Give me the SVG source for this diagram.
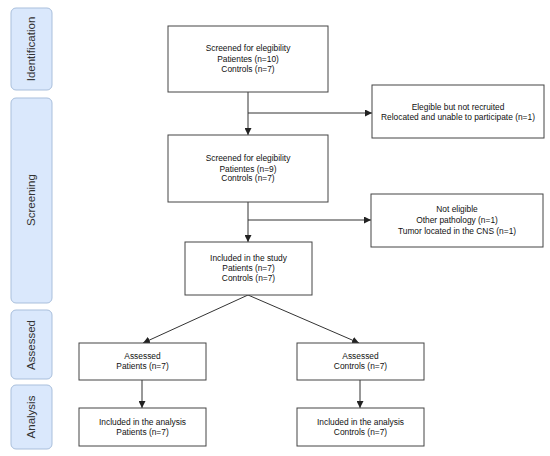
<svg xmlns="http://www.w3.org/2000/svg" width="550" height="456" viewBox="0 0 550 456">
<style>
.side{fill:#dae8fc;stroke:#a9bfdc;stroke-width:1}
.st{font-family:"Liberation Sans",Arial,sans-serif;font-size:11.5px;fill:#333;text-anchor:middle;dominant-baseline:central}
.box{fill:#fff;stroke:#444;stroke-width:1}
.t{font-family:"Liberation Sans",Arial,sans-serif;font-size:8.4px;fill:#111;text-anchor:middle}
.ln{stroke:#333;stroke-width:1;fill:none}
</style>
<defs>
<marker id="ah" viewBox="0 0 10 10" refX="10" refY="5" markerWidth="7" markerHeight="7" markerUnits="userSpaceOnUse" orient="auto">
<path d="M0,0 L10,5 L0,10 Z" fill="#222"/>
</marker>
</defs>
<rect width="550" height="456" fill="#fff"/>
<g id="side-identification"><rect class="side" x="11" y="8" width="41" height="82" rx="5"/><text class="st" transform="translate(31,49) rotate(-90)">Identification</text></g>
<g id="side-screening"><rect class="side" x="11" y="98" width="41" height="205" rx="5"/><text class="st" transform="translate(31,200) rotate(-90)">Screening</text></g>
<g id="side-assessed"><rect class="side" x="11" y="310" width="41" height="69" rx="5"/><text class="st" transform="translate(31,345) rotate(-90)">Assessed</text></g>
<g id="side-analysis"><rect class="side" x="11" y="385" width="41" height="64" rx="5"/><text class="st" transform="translate(31,417) rotate(-90)">Analysis</text></g>
<g id="connectors">
<line class="ln" x1="248" y1="92" x2="248" y2="135" marker-end="url(#ah)"/>
<line class="ln" x1="248" y1="113" x2="372" y2="113" marker-end="url(#ah)"/>
<line class="ln" x1="248" y1="202" x2="248" y2="242" marker-end="url(#ah)"/>
<line class="ln" x1="248" y1="220" x2="371" y2="220" marker-end="url(#ah)"/>
<line class="ln" x1="248" y1="295" x2="143" y2="343" marker-end="url(#ah)"/>
<line class="ln" x1="248" y1="295" x2="359" y2="343" marker-end="url(#ah)"/>
<line class="ln" x1="142" y1="380" x2="142" y2="408" marker-end="url(#ah)"/>
<line class="ln" x1="360" y1="380" x2="360" y2="408" marker-end="url(#ah)"/>
</g>
<g id="screened1"><rect class="box" x="168" y="26" width="160" height="66"/><text class="t" x="248" y="51">Screened for elegibility</text><text class="t" x="248" y="62">Patientes (n=10)</text><text class="t" x="248" y="72">Controls (n=7)</text></g>
<g id="elegible-not-recruited"><rect class="box" x="372" y="85" width="172" height="53"/><text class="t" x="458" y="110">Elegible but not recruited</text><text class="t" x="458" y="119.5">Relocated and unable to participate (n=1)</text></g>
<g id="screened2"><rect class="box" x="168" y="135" width="160" height="67"/><text class="t" x="248" y="161">Screened for elegibility</text><text class="t" x="248" y="172">Patientes (n=9)</text><text class="t" x="248" y="181">Controls (n=7)</text></g>
<g id="not-eligible"><rect class="box" x="371" y="194" width="172" height="53"/><text class="t" x="457" y="212">Not eligible</text><text class="t" x="457" y="223">Other pathology (n=1)</text><text class="t" x="457" y="234">Tumor located in the CNS (n=1)</text></g>
<g id="included"><rect class="box" x="185" y="242" width="127" height="53"/><text class="t" x="248.5" y="261">Included in the study</text><text class="t" x="248.5" y="271">Patients (n=7)</text><text class="t" x="248.5" y="281">Controls (n=7)</text></g>
<g id="assessed-patients"><rect class="box" x="79" y="343" width="127" height="37"/><text class="t" x="142.5" y="359">Assessed</text><text class="t" x="142.5" y="369">Patients (n=7)</text></g>
<g id="assessed-controls"><rect class="box" x="297" y="343" width="127" height="37"/><text class="t" x="360.5" y="359">Assessed</text><text class="t" x="360.5" y="369">Controls (n=7)</text></g>
<g id="analysis-patients"><rect class="box" x="79" y="408" width="127" height="38"/><text class="t" x="142.5" y="425">Included in the analysis</text><text class="t" x="142.5" y="435">Patients (n=7)</text></g>
<g id="analysis-controls"><rect class="box" x="297" y="408" width="127" height="38"/><text class="t" x="360.5" y="425">Included in the analysis</text><text class="t" x="360.5" y="435">Controls (n=7)</text></g>
</svg>
